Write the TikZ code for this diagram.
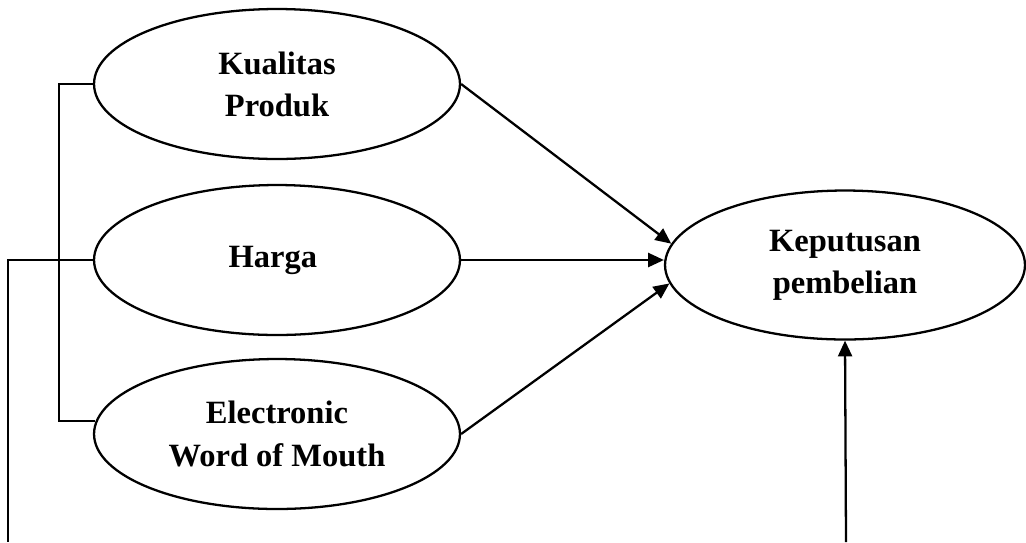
\documentclass[tikz,border=0pt]{standalone}
\usepackage{fontspec}
\setmainfont{Liberation Serif}
\usetikzlibrary{arrows.meta,shapes.geometric}
\tikzstyle{var} = [draw, ellipse, line width=1.3pt, minimum width=7.32cm, minimum height=3cm, inner sep=0pt, align=center, font=\fontsize{18.5}{24}\selectfont\bfseries]
\tikzstyle{ln} = [line width=1.3pt]
\tikzstyle{arr} = [line width=1.3pt, -{Triangle[length=9pt, width=8pt]}]

\begin{document}
\begin{tikzpicture}[x=0.02cm, y=-0.02cm]
	\useasboundingbox (0,0) rectangle (1026,542);

	\node [var] (kp) at (277,84){%
		Kualitas\\Produk
	};
	\node [var] (hg) at (277,260){%
		Harga
	};
	\node [var] (ewom) at (277,434){%
		Electronic\\Word of Mouth
	};
	\node [var, minimum width=7.2cm, minimum height=2.98cm] (kb) at (845,265){%
		Keputusan\\pembelian
	};

	\coordinate (b1) at (8,542);
	\coordinate (b2) at (846,542);

	% arrows into the decision
	\draw [arr] (kp.east) -- (kb.173);
	\draw [arr] (hg.east) -- (hg.east -| kb.west);
	\draw [arr] (ewom.east) -- (kb.186);
	\draw [arr] (b2) -- (kb.south);

	% brackets on the left
	\draw [ln] (kp.west) -- ++(-34,0) |- (ewom.176);
	\draw [ln] (hg.west) -| (b1);
\end{tikzpicture}
\end{document}
